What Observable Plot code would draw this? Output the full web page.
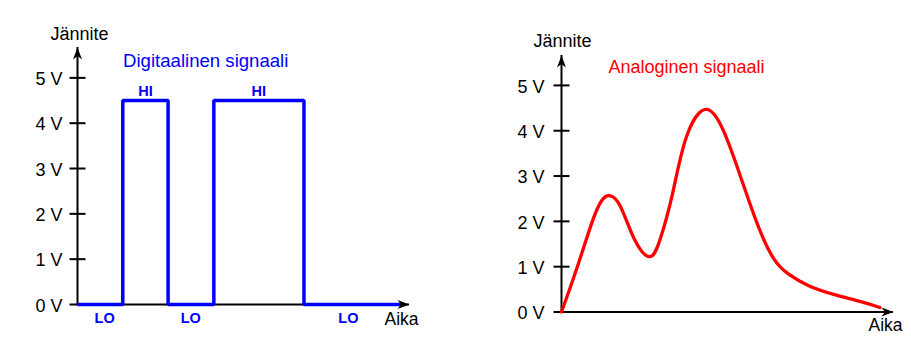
<!DOCTYPE html>
<html><head><meta charset="utf-8">
<script src="https://cdn.jsdelivr.net/npm/d3@7"></script>
<script src="https://cdn.jsdelivr.net/npm/@observablehq/plot@0.6"></script>
<style>
body{margin:0;background:#fff;}
#wrap{display:flex;width:911px;height:355px;background:#fff;}
svg{display:block;}
</style></head><body><div id="wrap"></div>
<script>
// ---- Data ----
const voltTicks = [0, 1, 2, 3, 4, 5];
const tickLabels = ["0 V", "1 V", "2 V", "3 V", "4 V", "5 V"];

// Digital signal (time units, volts)
const digitalTime = [0, 1, 2, 3.01, 5, 7.12];
const digitalVolt = [0, 4.5, 0, 4.5, 0, 0];
const hiLabelTime = [1.5, 4.0];
const hiLabelVolt = [4.5, 4.5];
const loLabelTime = [0.6, 2.5, 5.98];
const digitalXEnd = 7.33;
const digitalYEnd = 5.67;

// Analog signal
const analogTime = [0, 0.35, 0.68, 0.88, 1.06, 1.30, 1.60, 1.94, 2.18, 2.45, 2.75, 3.18, 3.58, 3.95, 4.35, 4.69, 5.00, 5.45, 6.00, 6.60, 7.02];
const analogVolt = [0, 1.0, 2.0, 2.45, 2.57, 2.33, 1.62, 1.22, 1.62, 2.62, 3.85, 4.47, 3.98, 2.98, 1.86, 1.16, 0.84, 0.58, 0.39, 0.23, 0.10];
const analogXEnd = 7.32;
const analogYEnd = 5.66;

// ---- Helpers ----
const FONT = "'Liberation Sans', Arial, Helvetica, sans-serif";
const tickSym = {draw(ctx) { ctx.moveTo(-8, 0); ctx.lineTo(8, 0); }};
const arrowSym = {draw(ctx) { ctx.moveTo(0, 0); ctx.lineTo(4.5, 12); ctx.lineTo(0, 8.5); ctx.lineTo(-4.5, 12); ctx.closePath(); }};

function axesMarks(xEnd, yEnd, labelGap, jdx, jdy, adx, ady) {
  return [
    Plot.ruleY([0], {stroke: "#000", strokeWidth: 2}),
    Plot.ruleX([0], {stroke: "#000", strokeWidth: 2}),
    Plot.dot(voltTicks, {y: d => d, frameAnchor: "left", symbol: tickSym, stroke: "#000", strokeWidth: 2}),
    Plot.text(voltTicks, {y: d => d, frameAnchor: "left", text: (d, i) => tickLabels[i], textAnchor: "end", lineAnchor: "middle", dx: -labelGap, dy: 1.5, fontSize: 18, fill: "#000"}),
    Plot.dot([yEnd], {y: d => d, frameAnchor: "left", symbol: arrowSym, fill: "#000"}),
    Plot.dot([xEnd], {x: d => d, frameAnchor: "bottom", symbol: arrowSym, fill: "#000", rotate: 90}),
    Plot.text(["Jännite"], {frameAnchor: "top-left", text: d => d, textAnchor: "middle", lineAnchor: "middle", dx: jdx, dy: jdy, fontSize: 18, fill: "#000"}),
    Plot.text(["Aika"], {frameAnchor: "bottom-right", text: d => d, textAnchor: "middle", lineAnchor: "middle", dx: adx, dy: ady, fontSize: 17.5, fill: "#000"})
  ];
}

const digitalData = digitalTime.map((t, i) => ({t, v: digitalVolt[i]}));
const left = Plot.plot({
  width: 455, height: 355,
  marginLeft: 77, marginRight: 46, marginTop: 47, marginBottom: 51,
  style: {fontFamily: FONT, background: "#fff", overflow: "visible"},
  x: {domain: [0, digitalXEnd], axis: null},
  y: {domain: [0, digitalYEnd], axis: null},
  marks: [
    ...axesMarks(digitalXEnd, digitalYEnd, 15, 2, -13, -8, 14.5),
    Plot.line(digitalData, {x: "t", y: "v", curve: "step-after", stroke: "#0000ff", strokeWidth: 3.5, strokeLinecap: "butt", strokeLinejoin: "miter"}),
    Plot.text(hiLabelTime, {x: d => d, y: (d, i) => hiLabelVolt[i], text: () => "HI", lineAnchor: "middle", dy: -9, fontSize: 14.5, fontWeight: "bold", fill: "#0000ff"}),
    Plot.text(loLabelTime, {x: d => d, y: () => 0, text: () => "LO", lineAnchor: "middle", dy: 14, fontSize: 14.5, fontWeight: "bold", fill: "#0000ff"}),
    Plot.text(["Digitaalinen signaali"], {frameAnchor: "top-left", text: d => d, textAnchor: "start", lineAnchor: "middle", dx: 45.5, dy: 14, fontSize: 18.6, fill: "#0000ff"})
  ]
});

const analogData = analogTime.map((t, i) => ({t, v: analogVolt[i]}));
const right = Plot.plot({
  width: 456, height: 355,
  marginLeft: 106, marginRight: 18, marginTop: 55, marginBottom: 43.5,
  style: {fontFamily: FONT, background: "#fff", overflow: "visible"},
  x: {domain: [0, analogXEnd], axis: null},
  y: {domain: [0, analogYEnd], axis: null},
  marks: [
    ...axesMarks(analogXEnd, analogYEnd, 17, 1, -14.5, -8, 13.5),
    Plot.line(analogData, {x: "t", y: "v", curve: "natural", stroke: "#ff0000", strokeWidth: 3.3}),
    Plot.text(["Analoginen signaali"], {frameAnchor: "top-left", text: d => d, textAnchor: "start", lineAnchor: "middle", dx: 47, dy: 12, fontSize: 18, fill: "#ff0000"})
  ]
});

document.getElementById("wrap").append(left, right);
</script>
</body></html>
